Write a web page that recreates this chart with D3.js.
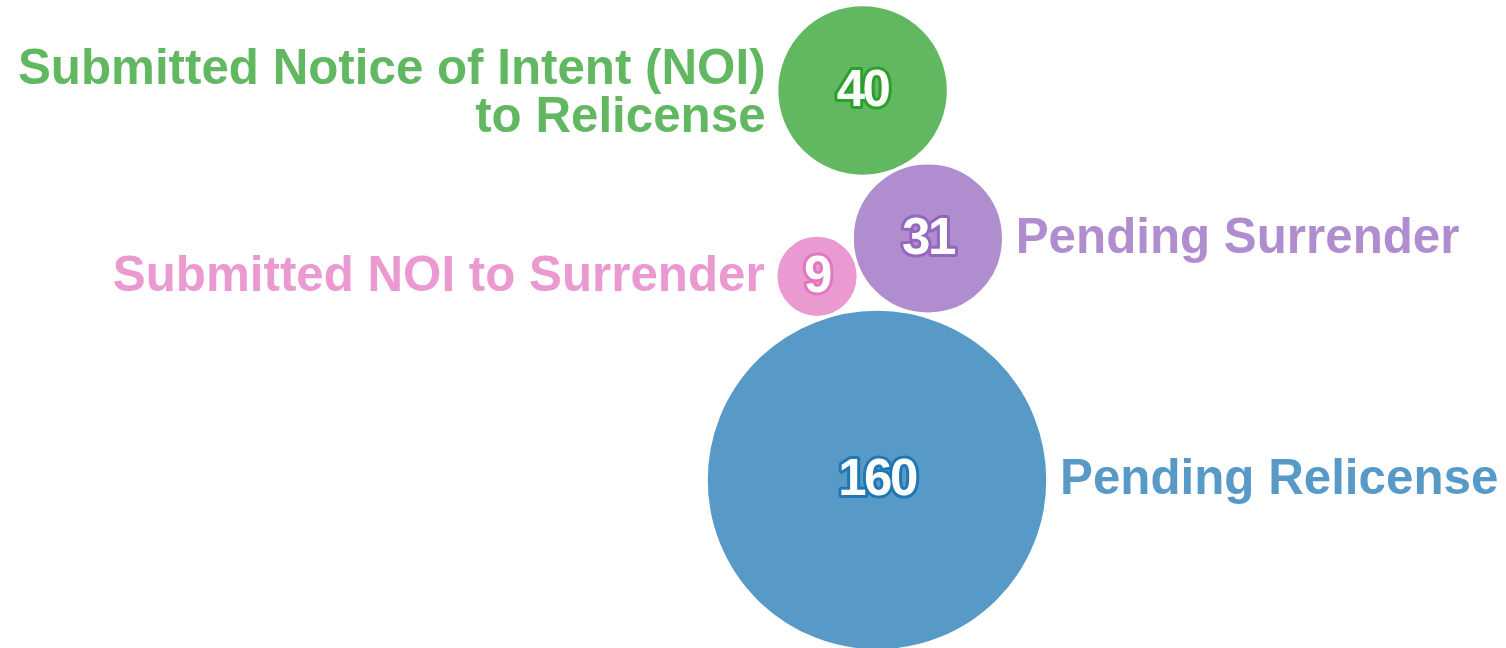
<!DOCTYPE html>
<html>
<head>
<meta charset="utf-8">
<script src="https://cdn.jsdelivr.net/npm/d3@7"></script>
<style>
  html, body { margin: 0; padding: 0; background: #fff; }
  svg { display: block; font-family: "Liberation Sans", Arial, sans-serif; }
</style>
</head>
<body>
<div id="main"></div>
<script>
// data
var categories = ["Pending Relicense", "Pending Surrender", "Submitted NOI to Surrender", "Submitted Notice of Intent (NOI) to Relicense"];
var labelLines = [["Pending Relicense"], ["Pending Surrender"], ["Submitted NOI to Surrender"], ["Submitted Notice of Intent (NOI)", "to Relicense"]];
var values = [160, 31, 9, 40];
var colors = ["#1f77b4", "#9467bd", "#e377c2", "#2ca02c"];
var labelSide = ["right", "right", "left", "left"];

var width = 1506, height = 648;
var svg = d3.select("#main").append("svg")
  .attr("width", width).attr("height", height);

var r = d3.scaleSqrt().domain([0, 160]).range([0, 170]);
var pad = 2;

// chain packing: big bubble anchored, others attached tangent to it
var nodes = categories.map(function (c, i) {
  return {name: c, lines: labelLines[i], value: values[i], color: colors[i], side: labelSide[i], r: r(values[i])};
});

var anchor = {x: 877, y: 480};
function attach(parent, child, deg) {
  var a = deg * Math.PI / 180, d = parent.r + child.r + pad;
  child.x = parent.x + d * Math.cos(a);
  child.y = parent.y + d * Math.sin(a);
}
// place child tangent to two circles (left-hand solution)
function nestle(p1, p2, child) {
  var d1 = p1.r + child.r + pad, d2 = p2.r + child.r + pad;
  var dx = p2.x - p1.x, dy = p2.y - p1.y, d = Math.sqrt(dx * dx + dy * dy);
  var a = (d1 * d1 - d2 * d2 + d * d) / (2 * d);
  var h = Math.sqrt(Math.max(0, d1 * d1 - a * a));
  var mx = p1.x + a * dx / d, my = p1.y + a * dy / d;
  child.x = mx + h * dy / d;
  child.y = my - h * dx / d;
}

nodes[0].x = anchor.x; nodes[0].y = anchor.y;
attach(nodes[0], nodes[1], -78.1);
nestle(nodes[0], nodes[1], nodes[2]);
attach(nodes[1], nodes[3], -113.8);

var fontSize = 49.3, lineH = 48.3;

var g = svg.selectAll(".bubble").data(nodes).enter().append("g")
  .attr("class", "bubble");

g.append("circle")
  .attr("cx", function (d) { return d.x; })
  .attr("cy", function (d) { return d.y; })
  .attr("r", function (d) { return d.r; })
  .style("fill", function (d) { return d.color; })
  .style("fill-opacity", 0.75)
  .style("stroke", "#fff")
  .style("stroke-width", 1.5);

g.append("text")
  .text(function (d) { return d.value; })
  .attr("x", function (d) { return d.x; })
  .attr("y", function (d) { return d.y; })
  .attr("dy", "0.3em")
  .attr("text-anchor", "middle")
  .style("font-size", "51px")
  .style("font-weight", "bold")
  .style("fill", "#fff")
  .style("stroke", function (d) { return d.color; })
  .style("stroke-width", 6)
  .style("stroke-linejoin", "round")
  .style("paint-order", "stroke")
  .style("letter-spacing", "-2.5px");

var label = g.append("text")
  .attr("text-anchor", function (d) { return d.side === "left" ? "end" : "start"; })
  .style("font-size", fontSize + "px")
  .style("font-weight", "bold")
  .style("fill", function (d) { return d.color; })
  .style("fill-opacity", 0.75);

label.each(function (d) {
  var n = d.lines.length;
  var x = d.side === "left" ? d.x - d.r - 12 : d.x + d.r + 13;
  var y0 = d.y + 14.2 - (n - 1) * lineH / 2 + (n - 1) * 3.6;
  d3.select(this).selectAll("tspan").data(d.lines).enter().append("tspan")
    .attr("x", x)
    .attr("y", function (t, i) { return y0 + i * lineH; })
    .text(function (t) { return t; });
});
</script>
</body>
</html>
